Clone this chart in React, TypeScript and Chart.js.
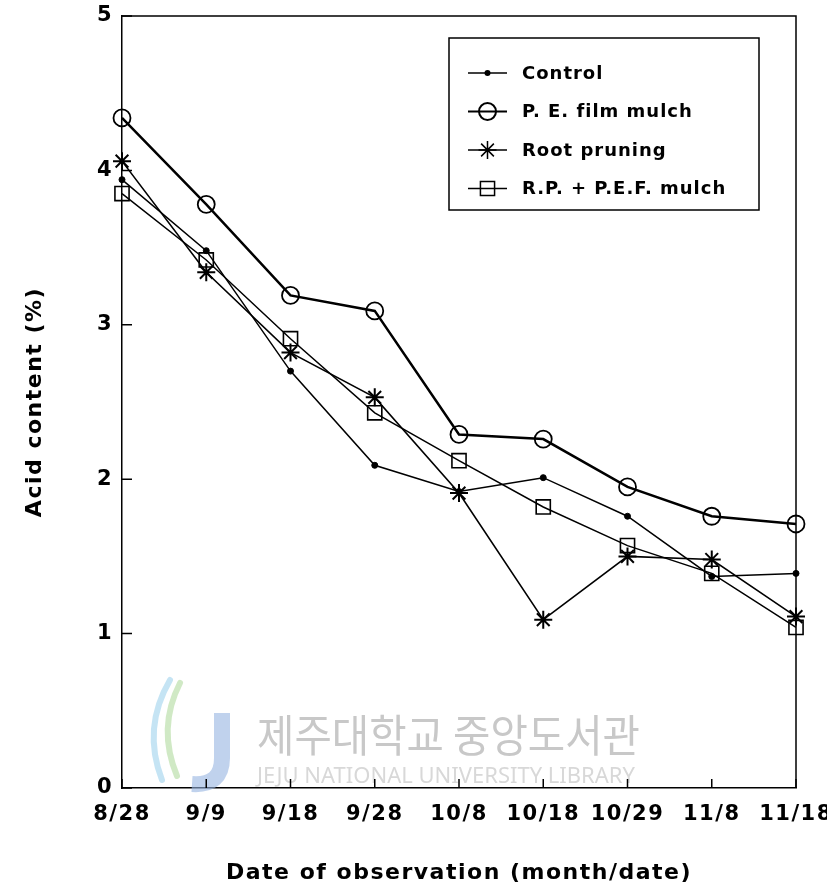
import React, { useEffect, useRef } from "react";
import { Chart, registerables } from "chart.js";

Chart.register(...registerables);

const categories = ["8/28", "9/9", "9/18", "9/28", "10/8", "10/18", "10/29", "11/8", "11/18"];
const control = [3.94, 3.48, 2.7, 2.09, 1.92, 2.01, 1.76, 1.37, 1.39];
const peFilmMulch = [4.34, 3.78, 3.19, 3.09, 2.29, 2.26, 1.95, 1.76, 1.71];
const rootPruning = [4.06, 3.34, 2.82, 2.53, 1.91, 1.09, 1.5, 1.48, 1.11];
const rpPefMulch = [3.85, 3.42, 2.91, 2.43, 2.12, 1.82, 1.57, 1.39, 1.04];
const yTickValues = [0, 1, 2, 3, 4, 5];
const seriesNames = ["Control", "P. E. film mulch", "Root pruning", "R.P. + P.E.F. mulch"];
const xTitle = "Date of observation (month/date)";
const yTitle = "Acid content (%)";
const watermarkKo = "제주대학교 중앙도서관";
const watermarkEn = "JEJU NATIONAL UNIVERSITY LIBRARY";

const FONT = "'DejaVu Sans', 'Liberation Sans', Arial, sans-serif";

function drawMarker(ctx: CanvasRenderingContext2D, style: string, x: number, y: number, r: number, lw: number) {
  ctx.save();
  ctx.strokeStyle = "#000";
  ctx.fillStyle = "#000";
  ctx.lineWidth = lw;
  ctx.beginPath();
  if (style === "dot") {
    ctx.arc(x, y, r, 0, Math.PI * 2);
    ctx.fill();
  } else if (style === "circle") {
    ctx.arc(x, y, r, 0, Math.PI * 2);
    ctx.stroke();
  } else if (style === "rect") {
    const s = r / Math.SQRT2;
    ctx.rect(x - s, y - s, 2 * s, 2 * s);
    ctx.stroke();
  } else if (style === "star") {
    for (let i = 0; i < 4; i++) {
      const a = (i * Math.PI) / 4;
      ctx.moveTo(x + Math.sin(a) * r, y - Math.cos(a) * r);
      ctx.lineTo(x - Math.sin(a) * r, y + Math.cos(a) * r);
    }
    ctx.stroke();
  }
  ctx.restore();
}

const spacingPlugin = {
  id: "spacing",
  beforeUpdate(chart: any) {
    (chart.ctx as any).letterSpacing = "1.5px";
  },
  beforeDraw(chart: any) {
    (chart.ctx as any).letterSpacing = "1.5px";
  },
};

const framePlugin = {
  id: "frame",
  beforeDatasetsDraw(chart: any) {
    const { ctx, chartArea, scales } = chart;
    const { left, right, top, bottom } = chartArea;
    ctx.save();
    // watermark logo
    ctx.lineCap = "round";
    ctx.strokeStyle = "rgba(150,205,235,0.55)";
    ctx.lineWidth = 6;
    ctx.beginPath();
    ctx.moveTo(left + 48, bottom - 108);
    ctx.quadraticCurveTo(left + 20, bottom - 60, left + 40, bottom - 8);
    ctx.stroke();
    ctx.strokeStyle = "rgba(170,215,150,0.55)";
    ctx.beginPath();
    ctx.moveTo(left + 58, bottom - 105);
    ctx.quadraticCurveTo(left + 35, bottom - 60, left + 55, bottom - 12);
    ctx.stroke();
    ctx.strokeStyle = "rgba(150,180,225,0.6)";
    ctx.lineWidth = 16;
    ctx.lineCap = "butt";
    ctx.beginPath();
    ctx.moveTo(left + 100, bottom - 75);
    ctx.lineTo(left + 100, bottom - 30);
    ctx.quadraticCurveTo(left + 100, bottom - 2, left + 70, bottom - 4);
    ctx.stroke();
    ctx.fillStyle = "#c8c8c8";
    ctx.font = `44px 'Noto Sans CJK KR', sans-serif`;
    ctx.textBaseline = "alphabetic";
    ctx.textAlign = "left";
    (ctx as any).letterSpacing = "0px";
    ctx.fillText(watermarkKo, left + 135, bottom - 36, 383);
    ctx.fillStyle = "#d8d8d8";
    ctx.font = `22px 'Noto Sans', sans-serif`;
    ctx.fillText(watermarkEn, left + 135, bottom - 5, 383);
    ctx.restore();

    ctx.save();
    ctx.strokeStyle = "#000";
    ctx.lineWidth = 1.5;
    ctx.beginPath();
    ctx.moveTo(left, top);
    ctx.lineTo(right, top);
    ctx.lineTo(right, bottom);
    ctx.stroke();
    // inward tick marks
    ctx.beginPath();
    yTickValues.forEach((v) => {
      const y = scales.y.getPixelForValue(v);
      ctx.moveTo(left, y);
      ctx.lineTo(left + 10, y);
    });
    categories.forEach((_, i) => {
      const x = scales.x.getPixelForValue(i);
      ctx.moveTo(x, bottom);
      ctx.lineTo(x, bottom - 9);
    });
    ctx.stroke();
    ctx.restore();
  },
  afterDatasetsDraw(chart: any) {
    const { ctx, chartArea } = chart;
    const bx = chartArea.left + 327;
    const by = chartArea.top + 22;
    const bw = 310;
    const bh = 172;
    ctx.save();
    ctx.fillStyle = "#fff";
    ctx.fillRect(bx, by, bw, bh);
    ctx.strokeStyle = "#000";
    ctx.lineWidth = 1.5;
    ctx.strokeRect(bx, by, bw, bh);
    const styles = ["dot", "circle", "star", "rect"];
    const radii = [3, 8.5, 9, 10];
    const lws = [1.5, 2, 1.5, 1.5];
    ctx.font = `bold 18px ${FONT}`;
    (ctx as any).letterSpacing = "1px";
    ctx.textBaseline = "middle";
    ctx.textAlign = "left";
    ctx.fillStyle = "#000";
    seriesNames.forEach((name, i) => {
      const y = by + 35 + i * 38.5;
      ctx.beginPath();
      ctx.lineWidth = lws[i];
      ctx.moveTo(bx + 19, y);
      ctx.lineTo(bx + 58, y);
      ctx.stroke();
      drawMarker(ctx, styles[i], bx + 38.5, y, radii[i], lws[i]);
      ctx.fillText(name, bx + 73, y + 1);
    });
    ctx.restore();
  },
};

export default function App() {
  const ref = useRef<HTMLCanvasElement | null>(null);
  useEffect(() => {
    document.body.style.margin = "0";
    const canvas = ref.current;
    if (!canvas) return;
    const common = {
      borderColor: "#000",
      pointBorderColor: "#000",
      tension: 0,
      fill: false,
    };
    const chart = new Chart(canvas, {
      type: "line",
      data: {
        labels: categories,
        datasets: [
          {
            ...common,
            label: seriesNames[0],
            data: control,
            borderWidth: 1.5,
            pointStyle: "circle",
            pointRadius: 3,
            pointBackgroundColor: "#000",
            pointBorderWidth: 1,
          },
          {
            ...common,
            label: seriesNames[1],
            data: peFilmMulch,
            borderWidth: 2.5,
            pointStyle: "circle",
            pointRadius: 8.5,
            pointBackgroundColor: "rgba(0,0,0,0)",
            pointBorderWidth: 1.8,
          },
          {
            ...common,
            label: seriesNames[2],
            data: rootPruning,
            borderWidth: 1.6,
            pointStyle: "star",
            pointRadius: 9,
            pointBackgroundColor: "rgba(0,0,0,0)",
            pointBorderWidth: 2,
          },
          {
            ...common,
            label: seriesNames[3],
            data: rpPefMulch,
            borderWidth: 1.5,
            pointStyle: "rect",
            pointRadius: 10,
            pointBackgroundColor: "rgba(0,0,0,0)",
            pointBorderWidth: 1.6,
          },
        ],
      },
      options: {
        animation: false,
        responsive: false,
        maintainAspectRatio: false,
        layout: { padding: { left: 0, right: 31, top: 16, bottom: 0 } },
        plugins: { legend: { display: false }, tooltip: { enabled: false } },
        scales: {
          x: {
            type: "category",
            offset: false,
            grid: { drawOnChartArea: false, drawTicks: false },
            border: { display: true, color: "#000", width: 1.5 },
            ticks: {
              color: "#000",
              font: { family: FONT, size: 21, weight: "bold" },
              padding: 14,
              maxRotation: 0,
              autoSkip: false,
            },
            title: {
              display: true,
              text: xTitle,
              color: "#000",
              font: { family: FONT, size: 22, weight: "bold" },
              padding: { top: 0, bottom: 10 },
            },
            afterFit(scale: any) {
              scale.height = 108;
              scale.paddingLeft = 0;
              scale.paddingRight = 0;
            },
          },
          y: {
            type: "linear",
            min: 0,
            max: 5,
            afterBuildTicks(scale: any) {
              scale.ticks = yTickValues.map((v) => ({ value: v }));
            },
            grid: { drawOnChartArea: false, drawTicks: false },
            border: { display: true, color: "#000", width: 1.5 },
            ticks: {
              color: "#000",
              font: { family: FONT, size: 21, weight: "bold" },
              padding: 9,
            },
            title: {
              display: true,
              text: yTitle,
              color: "#000",
              font: { family: FONT, size: 22, weight: "bold" },
              padding: { top: 22, bottom: 0 },
            },
            afterFit(scale: any) {
              scale.width = 122;
              scale.paddingTop = 0;
              scale.paddingBottom = 0;
            },
          },
        },
      },
      plugins: [spacingPlugin, framePlugin],
    } as any);
    return () => chart.destroy();
  }, []);
  return (
    <div style={{ width: 827, height: 896, background: "#fff" }}>
      <canvas ref={ref} width={827} height={896} style={{ display: "block", width: 827, height: 896 }} />
    </div>
  );
}
